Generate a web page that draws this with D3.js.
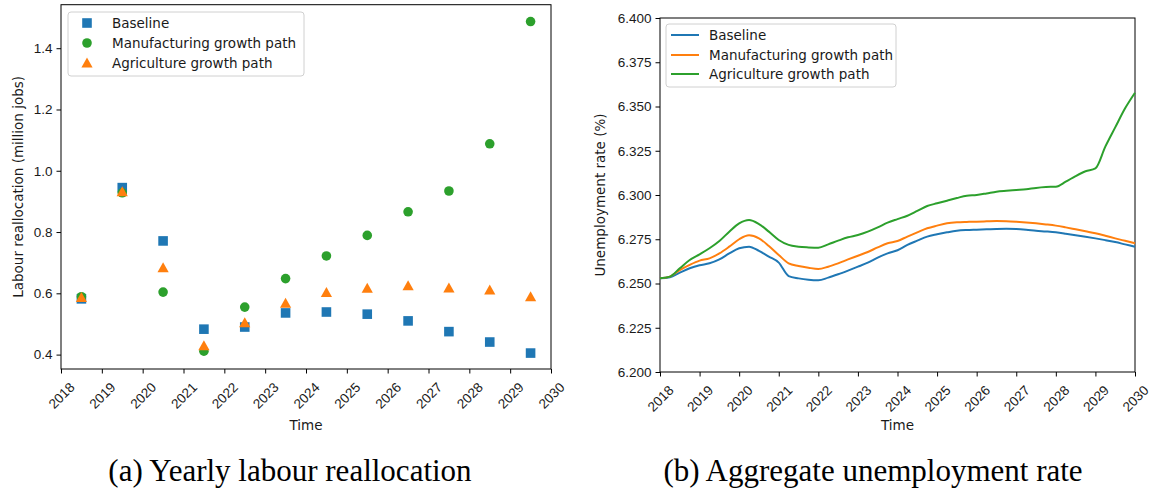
<!DOCTYPE html>
<html>
<head>
<meta charset="utf-8">
<script src="https://cdn.jsdelivr.net/npm/d3@7"></script>
<style>
  body { margin: 0; background: #fff; }
  svg { display: block; font-family: "DejaVu Sans", sans-serif; }
</style>
</head>
<body>
<svg id="fig" width="1157" height="496"></svg>
<script>
// ---- data: (a) yearly labour reallocation, million jobs ----
var realloTimes = [2018.5, 2019.5, 2020.5, 2021.5, 2022.5, 2023.5, 2024.5, 2025.5, 2026.5, 2027.5, 2028.5, 2029.5];
var realloBaseline = [0.582, 0.945, 0.771, 0.483, 0.490, 0.536, 0.539, 0.532, 0.510, 0.475, 0.441, 0.405];
var realloManuf    = [0.589, 0.928, 0.604, 0.411, 0.555, 0.648, 0.722, 0.789, 0.866, 0.934, 1.088, 1.487];
var realloAgri     = [0.587, 0.932, 0.684, 0.429, 0.504, 0.568, 0.603, 0.617, 0.625, 0.618, 0.611, 0.589];

// ---- data: (b) aggregate unemployment rate, %, quarterly ----
var quarters = [2018, 2018.25, 2018.5, 2018.75, 2019, 2019.25, 2019.5, 2019.75,
  2020, 2020.25, 2020.5, 2020.75, 2021, 2021.25, 2021.5, 2021.75,
  2022, 2022.25, 2022.5, 2022.75, 2023, 2023.25, 2023.5, 2023.75,
  2024, 2024.25, 2024.5, 2024.75, 2025, 2025.25, 2025.5, 2025.75,
  2026, 2026.25, 2026.5, 2026.75, 2027, 2027.25, 2027.5, 2027.75,
  2028, 2028.25, 2028.5, 2028.75, 2029, 2029.25, 2029.5, 2029.75, 2030];
var unempBaseline = [6.2529, 6.2535, 6.2561, 6.2586, 6.2603, 6.2614, 6.2636, 6.2670,
  6.2699, 6.2708, 6.2684, 6.2652, 6.2618, 6.2542, 6.2529, 6.2521,
  6.2518, 6.2533, 6.2552, 6.2573, 6.2595, 6.2618, 6.2646, 6.2670,
  6.2688, 6.2718, 6.2742, 6.2765, 6.2778, 6.2789, 6.2798, 6.2802,
  6.2804, 6.2806, 6.2808, 6.2809, 6.2808, 6.2804, 6.2798, 6.2794,
  6.2789, 6.2781, 6.2772, 6.2764, 6.2755, 6.2745, 6.2734, 6.2721, 6.2708];
var unempManuf = [6.2529, 6.2539, 6.2576, 6.2605, 6.2629, 6.2642, 6.2670, 6.2708,
  6.2750, 6.2772, 6.2755, 6.2712, 6.2661, 6.2614, 6.2599, 6.2589,
  6.2582, 6.2595, 6.2614, 6.2636, 6.2657, 6.2678, 6.2704, 6.2727,
  6.2740, 6.2765, 6.2789, 6.2812, 6.2827, 6.2840, 6.2846, 6.2848,
  6.2849, 6.2851, 6.2853, 6.2852, 6.2849, 6.2845, 6.2840, 6.2834,
  6.2827, 6.2817, 6.2806, 6.2795, 6.2784, 6.2770, 6.2755, 6.2741, 6.2727];
var unempAgri = [6.2529, 6.2539, 6.2586, 6.2633, 6.2665, 6.2699, 6.2740, 6.2793,
  6.2840, 6.2859, 6.2836, 6.2793, 6.2746, 6.2718, 6.2708, 6.2704,
  6.2702, 6.2721, 6.2742, 6.2761, 6.2774, 6.2793, 6.2817, 6.2844,
  6.2864, 6.2883, 6.2910, 6.2938, 6.2953, 6.2968, 6.2983, 6.2996,
  6.3000, 6.3009, 6.3019, 6.3024, 6.3028, 6.3032, 6.3040, 6.3045,
  6.3047, 6.3075, 6.3107, 6.3134, 6.3150, 6.3273, 6.3382, 6.3490, 6.3578];

var yearTicks = [2018, 2019, 2020, 2021, 2022, 2023, 2024, 2025, 2026, 2027, 2028, 2029, 2030];
var realloTicks = [0.4, 0.6, 0.8, 1.0, 1.2, 1.4];
var unempTicks = [6.200, 6.225, 6.250, 6.275, 6.300, 6.325, 6.350, 6.375, 6.400];
var seriesNames = ["Baseline", "Manufacturing growth path", "Agriculture growth path"];
var captions = ["(a) Yearly labour reallocation", "(b) Aggregate unemployment rate"];

// the scatter panel and the line panel order their colours differently
var markerColors = ["#1f77b4", "#2ca02c", "#ff7f0e"];
var lineColors = ["#1f77b4", "#ff7f0e", "#2ca02c"];
var textColor = "#1a1a1a";
var fontSize = "13.5px";
var svg = d3.select("#fig");

// markers, drawn around (0,0)
var markerPaths = [
  "M-4.8,-4.8H4.8V4.8H-4.8Z",
  d3.symbol().type(d3.symbolCircle).size(Math.PI * 4.8 * 4.8)(),
  "M0,-5.4L5.6,4.6L-5.6,4.6Z"
];

// draws ticks, labels and the box frame for one panel
function drawFrame(x, y, yTicks, yFormat, yLabel, yLabelX) {
  var x0 = x.range()[0], x1 = x.range()[1];
  var yb = y.range()[0], yt = y.range()[1];

  var gx = svg.append("g")
    .attr("transform", "translate(0," + yb + ")")
    .call(d3.axisBottom(x).tickValues(yearTicks).tickFormat(d3.format("d"))
      .tickSize(4.5).tickSizeOuter(0));
  gx.select(".domain").remove();
  gx.selectAll("line").attr("stroke", "#000");
  gx.selectAll("text")
    .attr("y", null).attr("dy", "0.35em")
    .attr("text-anchor", "middle")
    .attr("transform", "translate(0,26.5) rotate(-45)")
    .attr("fill", textColor)
    .style("font-size", fontSize);

  var gy = svg.append("g")
    .attr("transform", "translate(" + x0 + ",0)")
    .call(d3.axisLeft(y).tickValues(yTicks).tickFormat(d3.format(yFormat))
      .tickSize(4.5).tickPadding(4).tickSizeOuter(0));
  gy.select(".domain").remove();
  gy.selectAll("line").attr("stroke", "#000");
  gy.selectAll("text").attr("fill", textColor).style("font-size", fontSize);

  // frame (all four spines)
  svg.append("rect")
    .attr("x", x0).attr("y", yt)
    .attr("width", x1 - x0).attr("height", yb - yt)
    .attr("fill", "none").attr("stroke", "#000").attr("stroke-width", 1);

  svg.append("text")
    .attr("x", (x0 + x1) / 2).attr("y", 430)
    .attr("text-anchor", "middle")
    .attr("fill", textColor).style("font-size", fontSize)
    .text("Time");

  svg.append("text")
    .attr("transform", "translate(" + yLabelX + "," + (yb + yt) / 2 + ") rotate(-90)")
    .attr("text-anchor", "middle")
    .attr("fill", textColor).style("font-size", fontSize)
    .text(yLabel);
}

function drawLegend(bx, by, bw, bh, rowY, kind) {
  var g = svg.append("g");
  g.append("rect")
    .attr("x", bx).attr("y", by).attr("width", bw).attr("height", bh)
    .attr("rx", 3)
    .attr("fill", "#fff").attr("fill-opacity", 0.8)
    .attr("stroke", "#d0d0d0").attr("stroke-width", 1);
  seriesNames.forEach(function(name, i) {
    var cy = by + rowY[i];
    if (kind === "marker") {
      g.append("path").attr("d", markerPaths[i])
        .attr("transform", "translate(" + (bx + 19) + "," + cy + ")")
        .attr("fill", markerColors[i]);
      g.append("text").attr("x", bx + 44).attr("y", cy).attr("dy", "0.35em")
        .attr("fill", textColor).style("font-size", fontSize).text(name);
    } else {
      g.append("line").attr("x1", bx + 5).attr("x2", bx + 33)
        .attr("y1", cy).attr("y2", cy)
        .attr("stroke", lineColors[i]).attr("stroke-width", 2);
      g.append("text").attr("x", bx + 43).attr("y", cy).attr("dy", "0.35em")
        .attr("fill", textColor).style("font-size", fontSize).text(name);
    }
  });
}

// ---------- panel (a) ----------
var xa = d3.scaleLinear().domain([2018, 2030]).range([61, 551]);
var ya = d3.scaleLinear().domain([0.353, 1.542]).range([369, 4.7]);
drawFrame(xa, ya, realloTicks, ".1f", "Labour reallocation (million jobs)", 22.5);

[realloBaseline, realloManuf, realloAgri].forEach(function(vals, i) {
  svg.append("g").selectAll("path")
    .data(vals)
    .join("path")
      .attr("d", markerPaths[i])
      .attr("transform", function(d, j) { return "translate(" + xa(realloTimes[j]) + "," + ya(d) + ")"; })
      .attr("fill", markerColors[i]);
});
drawLegend(68, 12, 236, 64, [11, 31, 51], "marker");

// ---------- panel (b) ----------
var xb = d3.scaleLinear().domain([2018, 2030]).range([660, 1135]);
var yb = d3.scaleLinear().domain([6.2, 6.4]).range([372, 18]);
drawFrame(xb, yb, unempTicks, ".3f", "Unemployment rate (%)", 604.5);

var line = d3.line()
  .x(function(d) { return xb(d[0]); })
  .y(function(d) { return yb(d[1]); })
  .curve(d3.curveMonotoneX);

[unempBaseline, unempManuf, unempAgri].forEach(function(vals, i) {
  svg.append("path")
    .datum(quarters.map(function(t, j) { return [t, vals[j]]; }))
    .attr("fill", "none")
    .attr("stroke", lineColors[i])
    .attr("stroke-width", 2)
    .attr("d", line);
});
drawLegend(666, 24, 230, 63, [11, 31, 50], "line");

// ---------- captions ----------
svg.selectAll(".caption")
  .data(captions)
  .join("text")
    .attr("class", "caption")
    .attr("x", function(d, i) { return i === 0 ? 290 : 873; })
    .attr("y", 481)
    .attr("text-anchor", "middle")
    .attr("fill", "#000")
    .style("font-family", "'Liberation Serif', serif")
    .style("font-size", "31px")
    .text(function(d) { return d; });
</script>
</body>
</html>
